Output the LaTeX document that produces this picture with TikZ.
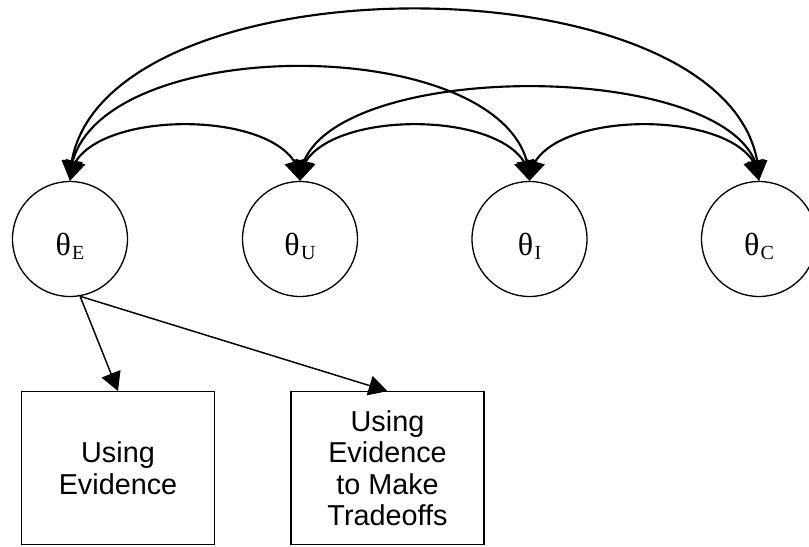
\documentclass[tikz,border=0pt]{standalone}
\usepackage{fontspec}
\setmainfont{Liberation Serif}
\newfontfamily\boxfont{Liberation Sans}
\usetikzlibrary{arrows.meta,bending}
\begin{document}
\begin{tikzpicture}[x=0.75pt,y=-0.75pt,
  latent/.style={circle,draw,line width=1pt,minimum size=86.25pt,inner sep=0pt},
  lbl/.style={anchor=base,inner sep=0pt,font=\fontsize{24}{28}\selectfont},
  obs/.style={rectangle,draw,line width=1pt,minimum width=144.75pt,minimum height=114.75pt,inner sep=0pt,align=center,font=\boxfont\fontsize{21.6}{23.5}\selectfont},
  tipc/.tip={Triangle[length=15pt,width=15pt,flex]},
  corr/.style={line width=1.6pt,tipc-tipc},
  load/.style={line width=1.1pt,-{Triangle[length=14pt,width=15pt]}}
]
\useasboundingbox (0,0) rectangle (809,546);
\fill[white] (0,0) rectangle (809,546);
\clip (0,0) rectangle (809,546);
\node[latent] (e) at (70,239) {};
\node[latent] (u) at (300,239) {};
\node[latent] (i) at (529.5,239) {};
\node[latent] (c) at (759,239) {};
\node[lbl] (eL) at (70,255) {θ\kern1pt\raisebox{-3.2pt}{\fontsize{15}{18}\selectfont E}};
\node[lbl] (uL) at (300,255) {θ\kern1pt\raisebox{-3.2pt}{\fontsize{15}{18}\selectfont U}};
\node[lbl] (iL) at (529.5,255) {θ\kern1pt\raisebox{-3.2pt}{\fontsize{15}{18}\selectfont I}};
\node[lbl] (cL) at (759,255) {θ\kern1pt\raisebox{-3.2pt}{\fontsize{15}{18}\selectfont C}};
\draw[corr] (e.north) .. controls +(0,-75.6) and +(0,-75.6) .. (u.north);
\draw[corr] (u.north) .. controls +(0,-75.6) and +(0,-75.6) .. (i.north);
\draw[corr] (i.north) .. controls +(0,-75.6) and +(0,-75.6) .. (c.north);
\draw[corr] (e.north) .. controls +(0,-153.3) and +(0,-153.3) .. (i.north);
\draw[corr] (u.north) .. controls +(0,-126.3) and +(0,-126.3) .. (c.north);
\draw[corr] (e.north) .. controls +(0,-229.9) and +(0,-229.9) .. (c.north);
\node[obs] (b1) at (118,468.3) {Using\\Evidence};
\node[obs] (b2) at (387.5,468.3) {Using\\Evidence\\to Make\\Tradeoffs};
\coordinate (eP) at (e.-80);
\draw[load] (eP) -- (b1.north);
\draw[load] (eP) -- (b2.north);
\end{tikzpicture}
\end{document}
